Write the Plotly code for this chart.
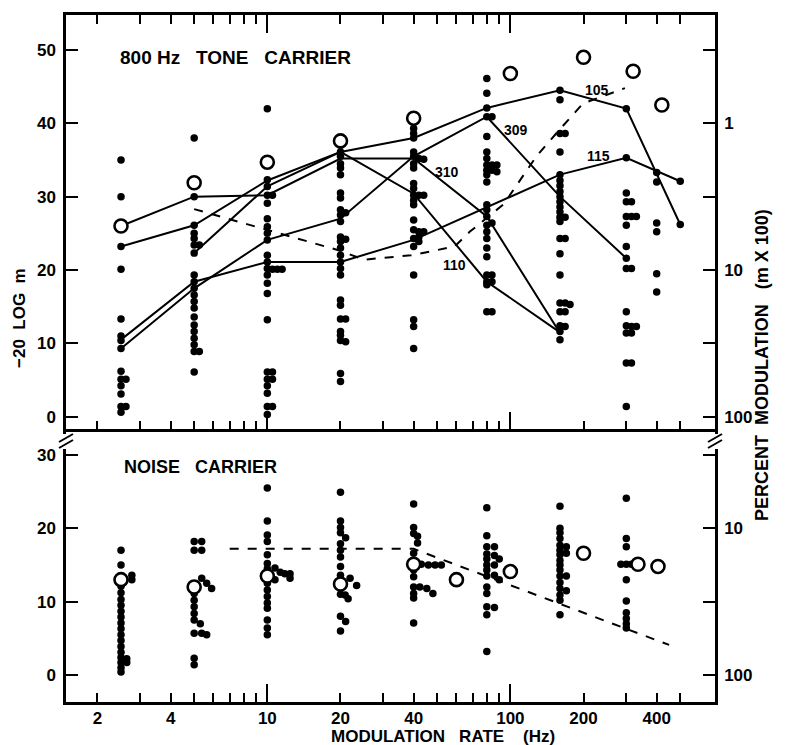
import math
import plotly.graph_objects as go

# ---------------- DATA ----------------
# ---- Top panel: 800 Hz tone carrier (-20 log m), filled dots per rate column ----
tone_2_5 = [35.0, 30.0, 26.0, 23.2, 20.1, 13.3, 11.0, 10.4, 9.3, 6.2, 5.1, 4.2, 3.1, 1.4, 0.6]
tone_5 = [38.0, 30.0, 26.1, 25.0, 24.3, 23.4, 22.3, 19.3, 18.4, 17.5, 16.6, 15.7, 14.8, 13.6,
          12.5, 11.6, 10.7, 9.8, 8.9, 6.1]
tone_10 = [42.0, 32.3, 31.4, 30.2, 29.1, 27.0, 25.9, 25.0, 24.1, 22.0, 21.1, 20.2, 19.3, 18.2,
           16.8, 13.2, 6.1, 5.1, 4.2, 3.2, 1.4, 0.3]
tone_20 = [37.0, 36.1, 35.5, 34.5, 33.9, 33.0, 30.5, 29.8, 28.2, 27.5, 26.6, 24.5, 23.9, 23.0,
           22.0, 21.1, 20.2, 19.3, 15.9, 15.2, 13.3, 11.6, 11.1, 10.4, 5.9, 4.8]
tone_40 = [39.3, 38.6, 38.0, 36.1, 35.5, 34.5, 33.9, 31.8, 31.1, 30.2, 29.5, 28.9, 26.8, 25.5,
           24.3, 23.2, 19.3, 13.2, 12.3, 9.3]
tone_80 = [46.1, 44.1, 42.1, 40.9, 38.2, 36.1, 35.2, 34.3, 33.6, 33.0, 32.0, 28.9, 28.2, 27.3,
           26.1, 25.2, 24.3, 23.0, 21.8, 19.3, 18.4, 18.0, 14.3]
tone_160 = [44.5, 43.2, 38.6, 36.1, 33.0, 32.2, 31.5, 30.7, 30.0, 29.3, 28.6, 27.9, 27.2, 26.6,
            24.3, 22.2, 19.3, 15.5, 14.3, 12.4, 11.6, 10.5]
tone_300 = [42.0, 35.3, 30.5, 29.3, 27.3, 26.1, 23.2, 21.6, 20.2, 14.3, 12.4, 11.4, 7.3, 1.4]
tone_400 = [33.3, 32.0, 26.4, 25.2, 19.5, 17.0]
tone_500 = [32.1, 26.2]

# dots drawn beside a column (rate slightly shifted as in the figure)
tone_side_rate = [2.62, 2.62, 5.25, 5.25, 10.5, 10.5, 11.0, 11.5, 10.5, 10.5, 10.5,
                  21, 21, 21, 21, 42, 44, 42, 44, 42, 44, 42, 42,
                  84, 84, 88, 84, 88, 84, 84, 84, 84,
                  168, 168, 168, 168, 176, 168, 168,
                  315, 315, 330, 315, 315, 330, 315, 315]
tone_side_db = [5.1, 1.4, 23.4, 8.9, 30.2, 20.1, 20.1, 20.1, 6.1, 5.1, 1.4,
                27.8, 24.2, 13.3, 10.2, 35.2, 35.1, 30.2, 30.2, 25.2, 25.2, 24.5, 23.9,
                40.9, 34.3, 34.3, 33.6, 33.4, 26.4, 19.3, 18.4, 14.3,
                38.6, 27.2, 24.3, 15.5, 15.3, 14.3, 12.3,
                29.3, 27.3, 27.3, 20.2, 12.3, 12.3, 11.4, 7.3]

# open circles (tone)
tone_open_rate = [2.5, 5, 10, 20, 40, 100, 200, 320, 420]
tone_open_db = [26.0, 31.9, 34.7, 37.6, 40.7, 46.8, 49.0, 47.1, 42.5]

# individual subjects (solid lines)
s105_rate = [2.5, 5, 10, 20, 40, 80, 160, 300, 500]
s105_db = [23.2, 26.1, 32.2, 36.1, 38.0, 42.1, 44.5, 42.0, 26.2]
s310_rate = [2.5, 5, 10, 20, 40, 80, 160]
s310_db = [26.0, 30.0, 30.2, 35.2, 35.2, 27.3, 11.4]
s110_rate = [5, 10, 20, 40, 80, 160]
s110_db = [22.3, 31.4, 36.1, 30.4, 18.4, 11.5]
s309_rate = [2.5, 5, 10, 20, 40, 80, 160, 300]
s309_db = [9.3, 17.5, 24.1, 27.0, 35.5, 40.9, 30.0, 21.6]
s115_rate = [2.5, 5, 10, 20, 40, 80, 160, 300, 500]
s115_db = [10.5, 18.4, 21.1, 21.1, 24.1, 28.6, 33.0, 35.3, 32.1]

# dashed reference curve (tone)
tone_dash_rate = [5, 10, 19.6, 25, 39, 59, 68, 94, 128, 157, 199, 296]
tone_dash_db = [28.3, 25.5, 22.7, 21.4, 22.0, 23.2, 25.2, 29.0, 35.5, 38.9, 42.7, 44.8]

# ---- Bottom panel: noise carrier ----
noise_2_5 = [17.0, 15.0, 13.0, 12.1, 11.2, 10.3, 9.5, 8.7, 7.9, 7.1, 6.3, 5.5, 4.7, 3.9, 3.1,
             2.4, 1.7, 1.0, 0.4]
noise_5 = [18.2, 17.0, 12.0, 11.1, 10.2, 9.3, 8.4, 7.5, 5.7, 2.3, 1.4]
noise_10 = [25.5, 21.0, 19.1, 18.2, 16.4, 15.2, 14.5, 12.5, 11.6, 10.7, 9.8, 9.1, 7.5, 6.4, 5.5]
noise_20 = [24.9, 21.0, 20.1, 19.4, 17.9, 17.0, 16.1, 14.8, 13.6, 12.4, 11.0, 8.0, 6.0]
noise_40 = [23.3, 20.1, 19.3, 16.6, 14.3, 13.4, 12.0, 11.1, 10.5, 7.1]
noise_80 = [22.8, 19.0, 17.5, 16.5, 15.8, 15.0, 14.3, 13.5, 12.0, 11.1, 9.3, 8.2, 3.2]
noise_160 = [23.0, 20.0, 19.4, 18.6, 17.7, 17.0, 16.4, 15.6, 15.0, 14.3, 13.5, 12.6, 11.8, 10.9,
             10.2, 8.2]
noise_300 = [24.1, 18.6, 17.5, 15.1, 13.0, 10.1, 8.5, 7.7, 7.0, 6.4]

noise_side_rate = [2.77, 2.77, 2.64, 2.64,
                   5.37, 5.37, 5.37, 5.63, 5.9, 5.3, 5.37, 5.63,
                   10.75, 11.3, 11.8, 12.4, 12.4, 10.75,
                   21, 21.9, 23.3, 20.9, 21.5, 21,
                   41.5, 41.5, 43, 46, 49, 52, 42.4, 45.3, 48,
                   86, 86, 90, 86, 86, 90, 86,
                   170, 170, 170, 170,
                   285, 315]
noise_side_db = [13.6, 13.0, 2.2, 1.7,
                 18.2, 17.0, 13.2, 12.5, 11.8, 7.0, 5.7, 5.5,
                 14.6, 14.0, 13.8, 13.8, 13.2, 13.0,
                 18.7, 13.2, 12.2, 10.9, 10.4, 7.3,
                 18.9, 18.0, 15.1, 15.0, 15.0, 15.0, 12.0, 11.8, 11.1,
                 17.5, 16.3, 15.8, 15.0, 13.6, 13.0, 9.2,
                 17.5, 16.6, 13.5, 11.5,
                 15.1, 15.1]

noise_open_rate = [2.5, 5, 10, 20, 40, 60, 100, 200, 335, 405]
noise_open_db = [13.0, 12.0, 13.5, 12.4, 15.1, 13.0, 14.1, 16.6, 15.1, 14.8]

noise_dash_rate = [7, 40, 450]
noise_dash_db = [17.2, 17.2, 4.1]

# axis tick labels
x_label_vals = [2, 4, 10, 20, 40, 100, 200, 400]
x_label_text = ["2", "4", "10", "20", "40", "100", "200", "400"]
x_minor_vals = [2, 3, 4, 5, 6, 7, 8, 9, 20, 30, 40, 50, 60, 70, 80, 90, 200, 300, 400, 500]
x_major_vals = [10, 100]
tone_left_vals = [0, 10, 20, 30, 40, 50]
tone_right_text = ["100", "", "10", "", "1", ""]
noise_left_vals = [0, 10, 20, 30]
noise_right_text = ["100", "", "10", ""]

subject_labels = ["105", "309", "115", "310", "110"]
subject_label_rate = [227, 105, 230, 55, 59]
subject_label_db = [44.5, 39.1, 35.5, 33.3, 20.7]


# ---------------- BUILD ----------------
def stack(cols):
    xs, ys = [], []
    for rate, vals in cols:
        xs += [rate] * len(vals)
        ys += vals
    return xs, ys


tone_x, tone_y = stack([(2.5, tone_2_5), (5, tone_5), (10, tone_10), (20, tone_20), (40, tone_40),
                        (80, tone_80), (160, tone_160), (300, tone_300), (400, tone_400),
                        (500, tone_500)])
tone_x += tone_side_rate
tone_y += tone_side_db

noise_x, noise_y = stack([(2.5, noise_2_5), (5, noise_5), (10, noise_10), (20, noise_20),
                          (40, noise_40), (80, noise_80), (160, noise_160), (300, noise_300)])
noise_x += noise_side_rate
noise_y += noise_side_db

BLACK = "black"
fig = go.Figure()

# top panel: subject lines
for rx, ry in [(s105_rate, s105_db), (s310_rate, s310_db), (s110_rate, s110_db),
               (s309_rate, s309_db), (s115_rate, s115_db)]:
    fig.add_trace(go.Scatter(x=rx, y=ry, mode="lines", line=dict(color=BLACK, width=2),
                             xaxis="x2", yaxis="y2", showlegend=False, hoverinfo="skip"))
fig.add_trace(go.Scatter(x=tone_dash_rate, y=tone_dash_db, mode="lines",
                         line=dict(color=BLACK, width=2, dash="dash"),
                         xaxis="x2", yaxis="y2", showlegend=False))
fig.add_trace(go.Scatter(x=tone_x, y=tone_y, mode="markers",
                         marker=dict(color=BLACK, size=7.5),
                         xaxis="x2", yaxis="y2", showlegend=False))
fig.add_trace(go.Scatter(x=tone_open_rate, y=tone_open_db, mode="markers",
                         marker=dict(color="white", size=13, line=dict(color=BLACK, width=2.6)),
                         xaxis="x2", yaxis="y2", showlegend=False))

# bottom panel
fig.add_trace(go.Scatter(x=noise_dash_rate, y=noise_dash_db, mode="lines",
                         line=dict(color=BLACK, width=2, dash="dash"),
                         xaxis="x", yaxis="y", showlegend=False))
fig.add_trace(go.Scatter(x=noise_x, y=noise_y, mode="markers",
                         marker=dict(color=BLACK, size=7.5),
                         xaxis="x", yaxis="y", showlegend=False))
fig.add_trace(go.Scatter(x=noise_open_rate, y=noise_open_db, mode="markers",
                         marker=dict(color="white", size=13, line=dict(color=BLACK, width=2.6)),
                         xaxis="x", yaxis="y", showlegend=False))

# invisible carriers so that the overlay axes (labels only) get drawn with their labels
for xa, ya, xs, ys in [("x3", "y", noise_open_rate, noise_open_db),
                       ("x2", "y3", tone_open_rate, tone_open_db),
                       ("x", "y4", noise_open_rate, noise_open_db)]:
    fig.add_trace(go.Scatter(x=xs, y=ys, mode="markers", marker=dict(opacity=0, size=1),
                             xaxis=xa, yaxis=ya, showlegend=False, hoverinfo="skip"))

XR = [0.1716, 2.842]
TOP_R = [-1.72, 54.77]
BOT_R = [-3.68, 33.5]
SPLIT = 0.397
FONT = dict(family="Liberation Sans", size=17, color=BLACK, weight="bold")
TFONT = dict(family="Liberation Sans", size=19, color=BLACK, weight="bold")
AFONT = dict(family="Liberation Sans", size=17, color=BLACK, weight="bold")

minor = dict(tickmode="array", tickvals=x_minor_vals, ticks="inside", ticklen=9,
             tickwidth=2, tickcolor=BLACK, showgrid=False)

common_x = dict(type="log", range=XR, autorange=False, showgrid=False, zeroline=False)

fig.update_layout(
    width=785, height=745,
    margin=dict(l=66, r=70, t=15, b=43),
    paper_bgcolor="white", plot_bgcolor="white",
    font=FONT, showlegend=False,
    xaxis=dict(**common_x, domain=[0, 1], anchor="y", showline=True, linewidth=2.5,
               linecolor=BLACK, ticks="inside", tickmode="array", tickvals=x_major_vals,
               ticklen=18, tickwidth=2, tickcolor=BLACK, showticklabels=False,
               minor=minor),
    xaxis3=dict(**common_x, overlaying="x", anchor="y", side="bottom", showline=False,
                ticks="", tickmode="array", tickvals=x_label_vals, ticktext=x_label_text,
                showticklabels=True, ticklabelstandoff=4, tickfont=FONT),
    xaxis4=dict(**common_x, overlaying="x", anchor="y", side="top", showline=False,
                ticks="inside", tickmode="array", tickvals=x_major_vals, ticklen=14,
                tickwidth=2, tickcolor=BLACK, showticklabels=False),
    xaxis2=dict(**common_x, domain=[0, 1], anchor="y2", showline=True, linewidth=2.5,
                linecolor=BLACK, mirror="ticks", ticks="inside", tickmode="array",
                tickvals=x_major_vals, ticklen=18, tickwidth=2, tickcolor=BLACK,
                showticklabels=False, minor=minor),
    yaxis=dict(domain=[0, SPLIT], anchor="x", range=BOT_R, showgrid=False, zeroline=False,
               showline=True, linewidth=2.5, linecolor=BLACK, ticks="inside",
               tickmode="array", tickvals=noise_left_vals, ticklen=12, tickwidth=2,
               tickcolor=BLACK, ticklabelstandoff=4, tickfont=FONT),
    yaxis4=dict(overlaying="y", anchor="x", side="right", range=BOT_R, autorange=False,
                showgrid=False, zeroline=False, showline=True, linewidth=2.5, linecolor=BLACK,
                ticks="inside", tickmode="array", tickvals=noise_left_vals,
                ticktext=noise_right_text, ticklen=12, tickwidth=2, tickcolor=BLACK,
                showticklabels=True, ticklabelstandoff=3, tickfont=FONT),
    yaxis2=dict(domain=[SPLIT, 1], anchor="x2", range=TOP_R, showgrid=False, zeroline=False,
                showline=True, linewidth=2.5, linecolor=BLACK, ticks="inside",
                tickmode="array", tickvals=tone_left_vals, ticklen=12, tickwidth=2,
                tickcolor=BLACK, ticklabelstandoff=4, tickfont=FONT),
    yaxis3=dict(overlaying="y2", anchor="x2", side="right", range=TOP_R, autorange=False,
                showgrid=False, zeroline=False, showline=True, linewidth=2.5, linecolor=BLACK,
                ticks="inside", tickmode="array", tickvals=tone_left_vals,
                ticktext=tone_right_text, ticklen=12, tickwidth=2, tickcolor=BLACK,
                showticklabels=True, ticklabelstandoff=3, tickfont=FONT),
)

# subject labels (log axis -> annotation x in log10 units)
for txt, r, d in zip(subject_labels, subject_label_rate, subject_label_db):
    fig.add_annotation(x=math.log10(r), y=d, xref="x2", yref="y2", text=txt, showarrow=False,
                       font=dict(family="Liberation Sans", size=14, color=BLACK, weight="bold"))


def px(xp):
    return (xp - 66) / 649.0


def py(yp):
    return (702 - yp) / 687.0


fig.add_annotation(x=px(118), y=py(57), xref="paper", yref="paper", xanchor="left",
                   yanchor="middle", text="800\u00a0Hz\u00a0\u00a0 TONE\u00a0\u00a0 CARRIER",
                   showarrow=False, font=TFONT)
fig.add_annotation(x=px(122), y=py(467), xref="paper", yref="paper", xanchor="left",
                   yanchor="middle", text="NOISE\u00a0\u00a0 CARRIER", showarrow=False,
                   font=dict(family="Liberation Sans", size=18, color=BLACK, weight="bold"))
fig.add_annotation(x=px(443), y=py(736), xref="paper", yref="paper", xanchor="center",
                   yanchor="middle",
                   text="MODULATION\u00a0\u00a0 RATE\u00a0\u00a0\u00a0 (Hz)", showarrow=False,
                   font=AFONT)
fig.add_annotation(x=px(19), y=py(318), xref="paper", yref="paper", textangle=-90,
                   xanchor="center", yanchor="middle",
                   text="\u221220\u00a0 LOG\u00a0 m", showarrow=False, font=AFONT)
fig.add_annotation(x=px(762), y=py(365), xref="paper", yref="paper", textangle=-90,
                   xanchor="center", yanchor="middle",
                   text="PERCENT\u00a0 MODULATION\u00a0\u00a0 (m\u00a0X\u00a0100)",
                   showarrow=False, font=dict(family="Liberation Sans", size=18, color=BLACK,
                                              weight="bold"))

# axis-break marks
for xc in (66, 715):
    fig.add_shape(type="rect", xref="paper", yref="paper", x0=px(xc - 4), x1=px(xc + 4),
                  y0=py(449), y1=py(434), fillcolor="white", line=dict(width=0),
                  layer="above")
    for dy in (0, 6):
        fig.add_shape(type="line", xref="paper", yref="paper",
                      x0=px(xc - 7), y0=py(442 + dy), x1=px(xc + 7), y1=py(434 + dy),
                      line=dict(color=BLACK, width=2), layer="above")

fig.write_html("out.html")
